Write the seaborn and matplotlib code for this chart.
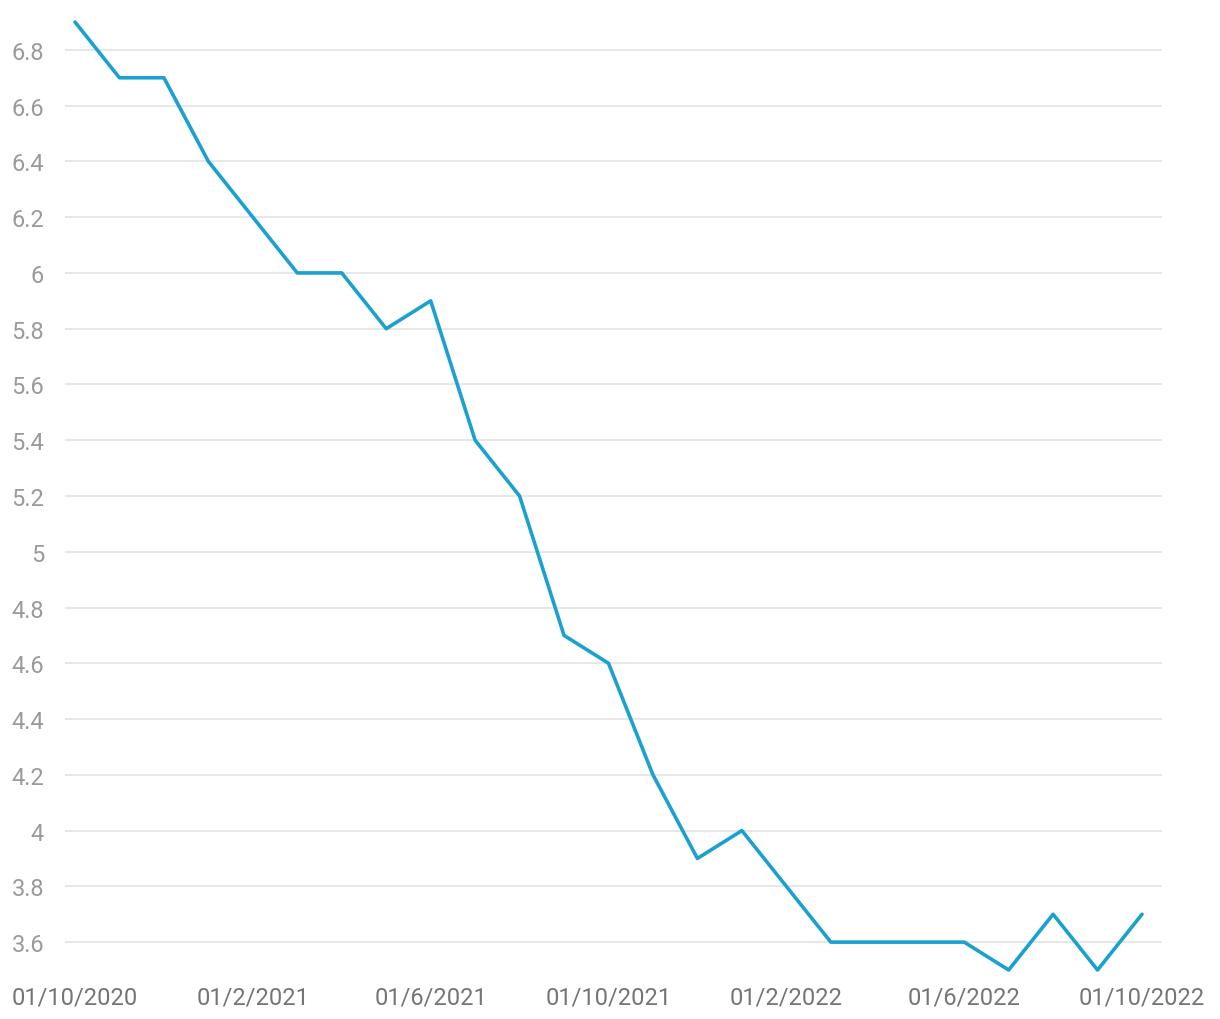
import pandas as pd
import matplotlib.pyplot as plt
import seaborn as sns
from matplotlib.ticker import FuncFormatter

# Monthly values, Oct 2020 - Oct 2022
months = pd.date_range("2020-10-01", "2022-10-01", freq="MS")
values = [6.9, 6.7, 6.7, 6.4, 6.2, 6.0, 6.0, 5.8, 5.9, 5.4, 5.2, 4.7, 4.6,
          4.2, 3.9, 4.0, 3.8, 3.6, 3.6, 3.6, 3.6, 3.5, 3.7, 3.5, 3.7]
tick_labels = ["01/10/2020", "01/2/2021", "01/6/2021", "01/10/2021",
               "01/2/2022", "01/6/2022", "01/10/2022"]

df = pd.DataFrame({"idx": range(len(months)), "value": values})

sns.set_style("white")
plt.rcParams["font.family"] = ["Roboto", "DejaVu Sans"]

fig = plt.figure(figsize=(12.2, 10.2), dpi=100)
ax = fig.add_axes([65 / 1220, 1 - 971 / 1020, (1162 - 65) / 1220, (971 - 23) / 1020])

sns.lineplot(data=df, x="idx", y="value", ax=ax, color="#1ba1cf",
             linewidth=2.6, clip_on=False)

ax.set_xlim(-10 / 44.5, 24 + 20 / 44.5)
ax.set_ylim(3.5, 6.9)
ax.set_yticks([3.6 + 0.2 * i for i in range(17)])
ax.yaxis.set_major_formatter(FuncFormatter(lambda v, p: f"{round(v, 1):g}"))
ax.set_xticks(range(0, len(months), 4))
ax.set_xticklabels(tick_labels)

ax.grid(axis="y", color="#e3e3e3", linewidth=1.2)
ax.set_axisbelow(True)
for s in ax.spines.values():
    s.set_visible(False)
ax.tick_params(axis="y", length=0, pad=15, labelsize=17, labelcolor="#9a9a9a")
ax.tick_params(axis="x", length=0, pad=11, labelsize=17, labelcolor="#757575")
ax.set_xlabel("")
ax.set_ylabel("")

fig.savefig("out.png", dpi=100)
